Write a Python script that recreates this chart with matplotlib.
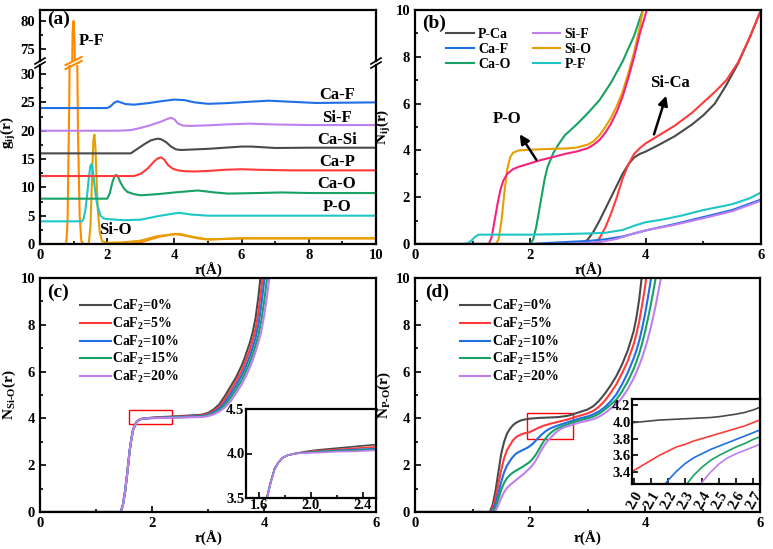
import matplotlib
matplotlib.use("Agg")
import matplotlib.pyplot as plt
from matplotlib.lines import Line2D
from matplotlib.patches import Rectangle
from matplotlib.ticker import MultipleLocator, FormatStrFormatter

# ---------------- panel (a): partial g_ij(r), offset curves ----------------
r_pf = [0, 0.78, 0.82, 0.87, 0.92, 0.97, 1.0, 1.03, 1.08, 1.13, 1.18, 1.23, 1.3, 2.6, 3.0, 3.5, 4.0, 4.3, 4.7, 5.0, 6.0, 8.0, 10]
g_pf = [0, 0, 4, 25, 55, 78, 80, 76, 50, 20, 5, 0.5, 0, 0, 0.3, 1.2, 1.8, 1.5, 1.0, 0.8, 1.0, 1.0, 1.0]
r_sio = [0, 1.45, 1.5, 1.53, 1.56, 1.59, 1.62, 1.65, 1.68, 1.72, 1.78, 1.85, 2.0, 2.5, 3.0, 3.5, 4.0, 4.15, 4.5, 5.0, 6.0, 8.0, 10]
g_sio = [0, 0, 3, 8, 14, 18.5, 19.3, 17, 12, 6, 2, 0.5, 0.2, 0.3, 0.6, 1.4, 1.7, 1.8, 1.3, 0.8, 1.0, 1.0, 1.0]
r_po = [0, 1.25, 1.3, 1.35, 1.4, 1.45, 1.5, 1.53, 1.56, 1.6, 1.65, 1.7, 1.8, 1.9, 2.0, 2.5, 3.0, 3.5, 4.0, 4.15, 4.5, 5.0, 6.0, 8.0, 10]
g_po = [4, 4, 4.5, 6, 8.5, 11.5, 13.8, 14.1, 13.5, 11.5, 9, 7, 5, 4.5, 4.4, 4.2, 4.3, 4.9, 5.4, 5.5, 5.2, 5.0, 5.0, 5.0, 5.0]
r_cao = [0, 2.0, 2.08, 2.15, 2.22, 2.27, 2.32, 2.4, 2.5, 2.6, 2.8, 3.0, 3.5, 4.0, 4.7, 5.2, 5.6, 6.5, 7.2, 8, 10]
g_cao = [8, 8, 9, 10.8, 12.0, 12.2, 11.9, 10.8, 9.8, 9.2, 8.8, 8.6, 8.8, 9.1, 9.45, 9.1, 8.9, 9.0, 9.1, 9.0, 9.0]
r_cap = [0, 2.8, 3.0, 3.2, 3.4, 3.5, 3.6, 3.7, 3.8, 3.95, 4.1, 4.3, 4.6, 5.0, 5.5, 6.0, 6.5, 7.5, 10]
g_cap = [12, 12, 12.4, 13.3, 14.6, 15.1, 15.3, 14.9, 14.0, 13.3, 13.0, 12.85, 12.8, 12.9, 13.1, 13.2, 13.1, 13.0, 13.0]
r_casi = [0, 2.7, 2.9, 3.1, 3.3, 3.5, 3.6, 3.75, 3.9, 4.05, 4.2, 4.6, 5.0, 5.5, 6.0, 6.3, 7.0, 8, 10]
g_casi = [16, 16, 16.8, 17.6, 18.3, 18.6, 18.5, 18.0, 17.2, 16.7, 16.6, 16.7, 16.8, 17.0, 17.2, 17.2, 16.95, 17.0, 17.0]
r_sif = [0, 2.3, 2.7, 3.0, 3.3, 3.6, 3.8, 3.9, 4.0, 4.1, 4.25, 4.5, 5.0, 5.5, 6.2, 7.0, 8.0, 10]
g_sif = [20, 20, 20.1, 20.5, 21.0, 21.6, 22.1, 22.3, 22.0, 21.3, 20.9, 20.85, 20.95, 21.1, 21.25, 21.1, 21.0, 21.0]
r_caf = [0, 2.0, 2.1, 2.2, 2.3, 2.4, 2.55, 2.8, 3.2, 3.6, 4.0, 4.3, 4.6, 5.0, 5.5, 6.2, 6.8, 7.5, 8.2, 10]
g_caf = [24, 24, 24.3, 24.9, 25.2, 25.0, 24.7, 24.6, 24.85, 25.2, 25.5, 25.4, 25.0, 24.75, 24.85, 25.1, 25.3, 25.1, 24.9, 25.0]

# ---------------- panel (b): N_ij(r) ----------------
rb_pca = [0, 2.9, 3.0, 3.1, 3.2, 3.3, 3.4, 3.5, 3.6, 3.7, 3.8, 3.9, 4.0, 4.2, 4.5, 4.8, 5.0, 5.2, 5.4, 5.6, 5.8, 6.0]
nb_pca = [0, 0, 0.2, 0.55, 1.0, 1.5, 2.0, 2.5, 3.0, 3.4, 3.7, 3.85, 3.95, 4.2, 4.6, 5.1, 5.5, 6.0, 6.8, 7.7, 8.8, 10]
rb_sica = [0, 3.1, 3.2, 3.3, 3.4, 3.5, 3.6, 3.7, 3.8, 3.9, 4.0, 4.2, 4.5, 4.8, 5.0, 5.2, 5.4, 5.6, 5.8, 6.0]
nb_sica = [0, 0, 0.25, 0.7, 1.3, 2.0, 2.8, 3.4, 3.85, 4.1, 4.3, 4.6, 5.05, 5.6, 6.05, 6.5, 7.0, 7.75, 8.8, 10]
rb_cao = [0, 2.0, 2.05, 2.1, 2.15, 2.2, 2.25, 2.3, 2.4, 2.5, 2.6, 2.8, 3.0, 3.2, 3.4, 3.6, 3.8, 3.95]
nb_cao = [0, 0, 0.2, 0.7, 1.4, 2.1, 2.8, 3.3, 3.9, 4.3, 4.65, 5.1, 5.6, 6.15, 6.9, 7.8, 8.9, 10]
rb_sio = [0, 1.4, 1.45, 1.5, 1.55, 1.6, 1.65, 1.7, 1.8, 2.0, 2.3, 2.6, 2.8, 3.0, 3.1, 3.2, 3.3, 3.4, 3.5, 3.6, 3.7, 3.8, 3.9, 3.95]
nb_sio = [0, 0, 0.2, 1.0, 2.2, 3.2, 3.7, 3.9, 4.0, 4.03, 4.06, 4.08, 4.12, 4.25, 4.4, 4.65, 5.0, 5.4, 5.9, 6.5, 7.3, 8.2, 9.3, 10]
rb_po = [0, 1.28, 1.33, 1.38, 1.43, 1.48, 1.53, 1.6, 1.7, 1.8, 2.0, 2.2, 2.4, 2.6, 2.8, 3.0, 3.1, 3.2, 3.3, 3.4, 3.5, 3.6, 3.7, 3.8, 3.9, 4.02]
nb_po = [0, 0, 0.3, 1.0, 1.7, 2.3, 2.7, 3.0, 3.2, 3.3, 3.45, 3.6, 3.72, 3.85, 3.95, 4.1, 4.25, 4.45, 4.75, 5.15, 5.65, 6.3, 7.1, 8.0, 9.0, 10]
rb_caf = [0, 2.0, 2.5, 3.0, 3.3, 3.6, 3.8, 4.0, 4.5, 5.0, 5.5, 6.0]
nb_caf = [0, 0, 0.07, 0.13, 0.2, 0.32, 0.45, 0.58, 0.85, 1.15, 1.45, 1.9]
rb_sif = [0, 2.3, 2.8, 3.2, 3.5, 3.8, 4.0, 4.5, 5.0, 5.5, 6.0]
nb_sif = [0, 0, 0.02, 0.08, 0.22, 0.45, 0.58, 0.82, 1.1, 1.4, 1.85]
rb_pf = [0, 0.85, 0.95, 1.0, 1.05, 1.1, 1.5, 2.0, 2.5, 3.0, 3.3, 3.6, 3.8, 4.0, 4.3, 4.6, 5.0, 5.5, 5.8, 6.0]
nb_pf = [0, 0, 0.08, 0.2, 0.32, 0.4, 0.4, 0.4, 0.42, 0.45, 0.48, 0.6, 0.78, 0.93, 1.05, 1.2, 1.45, 1.7, 1.95, 2.2]

# ---------------- panel (c): N_Si-O(r) vs CaF2 content ----------------
caf2_labels = ["0%", "5%", "10%", "15%", "20%"]
r_c = [0, 1.44, 1.48, 1.52, 1.56, 1.6, 1.63, 1.66, 1.69, 1.72, 1.75, 1.78, 1.82, 1.88, 1.95, 2.05, 2.2, 2.35, 2.5, 2.7,
       2.9, 3.0, 3.1, 3.2, 3.3, 3.4, 3.5, 3.6, 3.65, 3.7, 3.75, 3.8, 3.85, 3.9, 3.95, 4.0, 4.05, 4.1, 4.15, 4.2]
n_c_0 = [0, 0, 0.3, 0.9, 1.7, 2.6, 3.1, 3.5, 3.68, 3.83, 3.9, 3.95, 3.98, 4.0, 4.02, 4.04, 4.06, 4.08, 4.1, 4.13,
         4.16, 4.24, 4.38, 4.6, 4.95, 5.35, 5.75, 6.25, 6.55, 6.9, 7.25, 7.7, 8.3, 9.2, 10.3, 11.5, 12.5, 13.5, 14.5, 15.5]
n_c_5 = [0, 0, 0.3, 0.9, 1.7, 2.6, 3.1, 3.5, 3.68, 3.83, 3.9, 3.95, 3.98, 4.0, 4.015, 4.03, 4.045, 4.06, 4.075, 4.1,
         4.13, 4.2, 4.31, 4.5, 4.8, 5.17, 5.57, 6.02, 6.3, 6.62, 6.95, 7.35, 7.82, 8.55, 9.5, 10.6, 11.8, 12.8, 13.8, 14.8]
n_c_10 = [0, 0, 0.3, 0.9, 1.7, 2.6, 3.1, 3.5, 3.68, 3.83, 3.9, 3.95, 3.98, 4.0, 4.01, 4.02, 4.035, 4.045, 4.055, 4.08,
          4.1, 4.16, 4.26, 4.42, 4.67, 5.02, 5.4, 5.83, 6.08, 6.37, 6.68, 7.03, 7.45, 8.0, 8.8, 9.8, 10.9, 12.0, 13.0, 14.0]
n_c_15 = [0, 0, 0.28, 0.88, 1.68, 2.58, 3.08, 3.48, 3.67, 3.82, 3.9, 3.95, 3.98, 4.0, 4.01, 4.02, 4.03, 4.035, 4.045, 4.065,
          4.08, 4.13, 4.21, 4.35, 4.56, 4.87, 5.23, 5.63, 5.87, 6.13, 6.42, 6.75, 7.12, 7.55, 8.15, 8.95, 9.9, 11.0, 12.0, 13.0]
n_c_20 = [0, 0, 0.28, 0.88, 1.68, 2.58, 3.08, 3.48, 3.67, 3.82, 3.9, 3.95, 3.98, 4.0, 4.005, 4.01, 4.02, 4.025, 4.035, 4.05,
          4.06, 4.1, 4.17, 4.29, 4.47, 4.72, 5.07, 5.45, 5.68, 5.92, 6.2, 6.5, 6.85, 7.25, 7.7, 8.35, 9.15, 10.1, 11.2, 12.2]

# ---------------- panel (d): N_P-O(r) vs CaF2 content ----------------
r_d = [0, 1.3, 1.35, 1.4, 1.45, 1.5, 1.55, 1.6, 1.65, 1.7, 1.75, 1.8, 1.85, 1.9, 1.95, 2.0, 2.05, 2.1, 2.15, 2.2,
       2.25, 2.3, 2.35, 2.4, 2.45, 2.5, 2.55, 2.6, 2.65, 2.7, 2.75, 2.8, 2.9, 3.0, 3.1, 3.2, 3.3, 3.4, 3.5, 3.6,
       3.7, 3.8, 3.85, 3.9, 3.95, 4.0, 4.05, 4.1, 4.15, 4.2, 4.25, 4.3, 4.35]
n_d_0 = [0, 0, 0.3, 0.9, 1.7, 2.5, 3.0, 3.35, 3.55, 3.7, 3.8, 3.87, 3.92, 3.95, 3.97, 3.99, 4.0, 4.01, 4.02, 4.025,
         4.03, 4.035, 4.04, 4.045, 4.05, 4.06, 4.075, 4.09, 4.11, 4.14, 4.18, 4.22, 4.3, 4.38, 4.52, 4.75, 5.05, 5.4, 5.8, 6.3,
         6.9, 7.7, 8.3, 9.1, 10.2, 11.4, 12.5, 13.5, 14.5, 15.5, 16.5, 17.5, 18.5]
n_d_5 = [0, 0, 0.15, 0.6, 1.2, 1.8, 2.3, 2.65, 2.85, 3.05, 3.18, 3.26, 3.32, 3.36, 3.39, 3.42, 3.48, 3.54, 3.6, 3.65,
         3.7, 3.73, 3.77, 3.8, 3.83, 3.86, 3.89, 3.92, 3.95, 3.99, 4.03, 4.07, 4.14, 4.21, 4.32, 4.5, 4.75, 5.08, 5.45, 5.92,
         6.45, 7.15, 7.6, 8.15, 8.85, 9.6, 10.6, 11.6, 12.6, 13.6, 14.6, 15.6, 16.6]
n_d_10 = [0, 0, 0.05, 0.35, 0.8, 1.3, 1.7, 1.98, 2.18, 2.35, 2.48, 2.56, 2.62, 2.68, 2.74, 2.82, 2.92, 3.05, 3.18, 3.3,
          3.41, 3.5, 3.57, 3.62, 3.67, 3.71, 3.75, 3.79, 3.83, 3.87, 3.91, 3.95, 4.02, 4.08, 4.17, 4.3, 4.48, 4.72, 5.02, 5.45,
          5.95, 6.55, 6.9, 7.32, 7.85, 8.45, 9.15, 9.9, 10.8, 11.8, 12.8, 13.8, 14.8]
n_d_15 = [0, 0, 0, 0.2, 0.55, 0.95, 1.25, 1.45, 1.58, 1.68, 1.76, 1.83, 1.9, 1.98, 2.06, 2.15, 2.28, 2.45, 2.65, 2.87,
          3.07, 3.23, 3.36, 3.46, 3.54, 3.6, 3.65, 3.7, 3.74, 3.79, 3.83, 3.87, 3.94, 4.0, 4.08, 4.2, 4.38, 4.58, 4.8, 5.15,
          5.58, 6.1, 6.42, 6.78, 7.2, 7.7, 8.25, 8.85, 9.5, 10.2, 11.0, 12.0, 13.0]
n_d_20 = [0, 0, 0, 0.05, 0.3, 0.6, 0.85, 1.03, 1.15, 1.25, 1.35, 1.45, 1.55, 1.65, 1.77, 1.88, 2.02, 2.2, 2.42, 2.65,
          2.85, 3.02, 3.15, 3.28, 3.4, 3.5, 3.57, 3.62, 3.66, 3.7, 3.74, 3.78, 3.85, 3.9, 3.97, 4.07, 4.22, 4.42, 4.6, 4.88,
          5.25, 5.7, 5.97, 6.27, 6.6, 6.98, 7.4, 7.88, 8.42, 9.0, 9.65, 10.35, 11.1]

# ---------------- style ----------------
plt.rcParams['font.family'] = ['Liberation Serif', 'DejaVu Serif']
plt.rcParams['font.weight'] = 'bold'
plt.rcParams['axes.labelweight'] = 'bold'
plt.rcParams['mathtext.fontset'] = 'custom'
plt.rcParams['mathtext.rm'] = 'Liberation Serif:bold'
plt.rcParams['mathtext.it'] = 'Liberation Serif:bold'
plt.rcParams['mathtext.bf'] = 'Liberation Serif:bold'
plt.rcParams['mathtext.default'] = 'rm'

C_BLACK = '#4a4a4a'
C_RED = '#ff3b3b'
C_BLUE = '#1f6fe5'
C_GREEN = '#17a264'
C_VIOLET = '#bf7fef'
C_CYAN = '#1fc6c6'
C_ORANGE = '#ff8a00'
C_GOLD = '#e3a000'
C_PINK = '#f5237d'
LW = 1.5
TFS = 10.5  # tick label size

W, H = 773, 549
fig = plt.figure(figsize=(W / 100, H / 100), dpi=100)


def px_axes(l, t, r, b):
    return fig.add_axes([l / W, 1 - b / H, (r - l) / W, (b - t) / H])


def style(ax, fs=TFS):
    for s in ax.spines.values():
        s.set_linewidth(1.6)
    ax.tick_params(which='both', direction='in', top=False, right=False, labelsize=fs, width=1.2)
    ax.tick_params(which='major', length=4)
    ax.tick_params(which='minor', length=2.5)
    for lab in ax.get_xticklabels() + ax.get_yticklabels():
        lab.set_fontweight('bold')


def fig_line(xs, ys, color, lw=1.2):
    fig.add_artist(Line2D([x / W for x in xs], [1 - y / H for y in ys], color=color, lw=lw))


# ---------------- (a) ----------------
a_up = px_axes(40, 10, 376, 61)
a_lo = px_axes(40, 65, 376, 244)

series_a = [(r_pf, g_pf, C_ORANGE), (r_sio, g_sio, C_GOLD), (r_po, g_po, C_CYAN), (r_cao, g_cao, C_GREEN),
            (r_cap, g_cap, C_RED), (r_casi, g_casi, C_BLACK), (r_sif, g_sif, C_VIOLET), (r_caf, g_caf, C_BLUE)]
for rr, gg, col in series_a:
    a_lo.plot(rr, gg, color=col, lw=LW)
    a_up.plot(rr, gg, color=col, lw=LW)

a_lo.set_xlim(0, 10)
a_lo.set_ylim(0, 31.6)
a_up.set_xlim(0, 10)
a_up.set_ylim(72.86, 81.96)
a_lo.xaxis.set_major_locator(MultipleLocator(2))
a_lo.xaxis.set_minor_locator(MultipleLocator(1))
a_lo.yaxis.set_major_locator(MultipleLocator(5))
a_lo.yaxis.set_minor_locator(MultipleLocator(2.5))
a_up.yaxis.set_major_locator(MultipleLocator(5))
a_up.yaxis.set_minor_locator(MultipleLocator(2.5))
a_lo.spines['top'].set_visible(False)
a_up.spines['bottom'].set_visible(False)
style(a_lo)
style(a_up)
a_up.tick_params(axis='x', which='both', bottom=False, labelbottom=False)
a_lo.set_xlabel('r(Å)', fontsize=11, labelpad=1)

for x0 in (40, 376):
    fig_line([x0 - 5, x0 + 5], [64, 58], 'k')
    fig_line([x0 - 5, x0 + 5], [68, 62], 'k')
xpf = 40 + 336 * 1.0 / 10
fig_line([xpf - 8, xpf + 8], [65, 57], C_ORANGE, 1.5)
fig_line([xpf - 8, xpf + 8], [69, 61], C_ORANGE, 1.5)

a_up.text(0.2, 80.3, '(a)', fontsize=14, fontweight='bold', va='center')
a_up.text(1.15, 76.5, 'P-F', fontsize=12, fontweight='bold', va='center')
a_lo.text(2.25, 2.5, 'Si-O', fontsize=12, fontweight='bold', ha='center', va='center')
for lab, yy in [('Ca-F', 26.3), ('Si-F', 22.3), ('Ca-Si', 18.4), ('Ca-P', 14.4), ('Ca-O', 10.6), ('P-O', 6.5)]:
    a_lo.text(8.83, yy, lab, fontsize=12, fontweight='bold', ha='center', va='center')
fig.text(9 / W, 1 - 133 / H, 'g$_{ij}$(r)', rotation=90, ha='center', va='center', fontsize=11)

# ---------------- (b) ----------------
b = px_axes(415, 10, 761, 244)
hb = {}
hb['P-Ca'], = b.plot(rb_pca, nb_pca, color=C_BLACK, lw=LW)
b.plot(rb_sica, nb_sica, color=C_RED, lw=LW)
hb['Ca-O'], = b.plot(rb_cao, nb_cao, color=C_GREEN, lw=LW)
hb['Si-O'], = b.plot(rb_sio, nb_sio, color=C_GOLD, lw=LW)
b.plot(rb_po, nb_po, color=C_PINK, lw=LW)
hb['Ca-F'], = b.plot(rb_caf, nb_caf, color=C_BLUE, lw=LW)
hb['Si-F'], = b.plot(rb_sif, nb_sif, color=C_VIOLET, lw=LW)
hb['P-F'], = b.plot(rb_pf, nb_pf, color=C_CYAN, lw=LW)
b.set_xlim(0, 6)
b.set_ylim(0, 10)
b.xaxis.set_major_locator(MultipleLocator(2))
b.xaxis.set_minor_locator(MultipleLocator(1))
b.yaxis.set_major_locator(MultipleLocator(2))
b.yaxis.set_minor_locator(MultipleLocator(1))
style(b)
b.set_xlabel('r(Å)', fontsize=11, labelpad=1)
b.set_ylabel('N$_{ij}$(r)', fontsize=11, labelpad=2)
order_b = ['P-Ca', 'Ca-F', 'Ca-O', 'Si-F', 'Si-O', 'P-F']
b.legend([hb[k] for k in order_b], order_b, ncol=2, frameon=False, fontsize=10, loc='upper left',
         bbox_to_anchor=(0.09, 0.925), borderpad=0, borderaxespad=0, handlelength=2.0,
         handletextpad=0.3, columnspacing=1.6, labelspacing=0.15)
b.text(0.12, 9.45, '(b)', fontsize=14, fontweight='bold', va='center')
arr = dict(arrowstyle='-|>', color='k', lw=1.8, mutation_scale=14)
b.annotate('', xy=(1.79, 4.79), xytext=(2.13, 3.5), arrowprops=arr)
b.text(1.6, 5.35, 'P-O', fontsize=12, fontweight='bold', ha='center', va='center')
b.annotate('', xy=(4.37, 6.45), xytext=(4.13, 4.57), arrowprops=arr)
b.text(4.42, 6.88, 'Si-Ca', fontsize=12, fontweight='bold', ha='center', va='center')

# ---------------- (c) and (d) ----------------
colors_cd = [C_BLACK, C_RED, C_BLUE, C_GREEN, C_VIOLET]
c = px_axes(40, 278, 376, 512)
d = px_axes(415, 278, 760, 512)
c_in = px_axes(246, 409, 376, 498)
d_in = px_axes(632, 399, 760, 484)

for ax, xs, ys_list, ylab, tag, tx in [(c, r_c, [n_c_0, n_c_5, n_c_10, n_c_15, n_c_20], 'N$_{Si\\text{-}O}$(r)', '(c)', 0.12),
                                       (d, r_d, [n_d_0, n_d_5, n_d_10, n_d_15, n_d_20], 'N$_{P\\text{-}O}$(r)', '(d)', 0.17)]:
    hs = []
    for ys, col in zip(ys_list, colors_cd):
        h, = ax.plot(xs, ys, color=col, lw=LW)
        hs.append(h)
    ax.set_xlim(0, 6)
    ax.set_ylim(0, 10)
    ax.xaxis.set_major_locator(MultipleLocator(2))
    ax.xaxis.set_minor_locator(MultipleLocator(1))
    ax.yaxis.set_major_locator(MultipleLocator(2))
    ax.yaxis.set_minor_locator(MultipleLocator(1))
    style(ax)
    ax.set_xlabel('r(Å)', fontsize=11, labelpad=1)
    ax.set_ylabel(ylab, fontsize=11, labelpad=2)
    ax.legend(hs, ['CaF$_2$=' + s for s in caf2_labels], frameon=False, fontsize=10, loc='upper left',
              bbox_to_anchor=(0.12 if ax is c else 0.13, 0.915), borderpad=0, borderaxespad=0,
              handlelength=2.2, handletextpad=0.1, labelspacing=0.12)
    ax.text(tx, 9.4, tag, fontsize=14, fontweight='bold', va='center')

for ys, col in zip([n_c_0, n_c_5, n_c_10, n_c_15, n_c_20], colors_cd):
    c_in.plot(r_c, ys, color=col, lw=1.2)
c_in.set_xlim(1.5, 2.5)
c_in.set_ylim(3.5, 4.5)
c_in.set_xticks([1.6, 2.0, 2.4])
c_in.xaxis.set_minor_locator(MultipleLocator(0.2))
c_in.set_yticks([3.5, 4.0, 4.5])
c_in.yaxis.set_major_formatter(FormatStrFormatter('%.1f'))
c_in.xaxis.set_major_formatter(FormatStrFormatter('%.1f'))
style(c_in)
c_in.tick_params(axis='x', pad=1)
c_in.tick_params(axis='y', pad=1)

for ys, col in zip([n_d_0, n_d_5, n_d_10, n_d_15, n_d_20], colors_cd):
    d_in.plot(r_d, ys, color=col, lw=1.2)
d_in.set_xlim(1.99, 2.74)
d_in.set_ylim(3.26, 4.27)
d_in.set_xticks([2.0, 2.1, 2.2, 2.3, 2.4, 2.5, 2.6, 2.7])
d_in.set_yticks([3.4, 3.6, 3.8, 4.0, 4.2])
d_in.yaxis.set_major_formatter(FormatStrFormatter('%.1f'))
d_in.xaxis.set_major_formatter(FormatStrFormatter('%.1f'))
style(d_in)
d_in.tick_params(axis='y', pad=1)
for lab in d_in.get_xticklabels():
    lab.set_rotation(60)
    lab.set_ha('right')
    lab.set_va('top')
    lab.set_rotation_mode('anchor')

c.add_patch(Rectangle((1.59, 3.74), 0.77, 0.62, fill=False, edgecolor='red', lw=1.0))
d.add_patch(Rectangle((1.95, 3.1), 0.8, 1.14, fill=False, edgecolor='red', lw=1.0))

fig.savefig('out.png', dpi=100)
